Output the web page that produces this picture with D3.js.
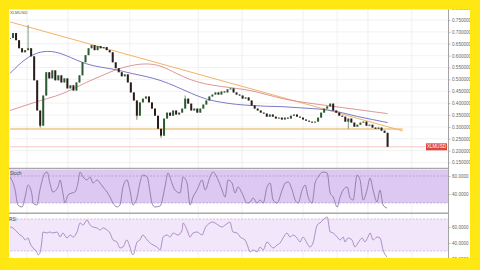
<!DOCTYPE html>
<html><head><meta charset="utf-8">
<script src="https://cdn.jsdelivr.net/npm/d3@7"></script>
<style>html,body{margin:0;padding:0;background:#fff;}svg{display:block;}</style>
</head><body><svg id="c" width="480" height="270"></svg>
<script>
// ---- data ----
const closes = [0.674,0.695,0.665,0.631,0.614,0.623,0.631,0.597,0.496,0.369,
0.305,0.432,0.530,0.504,0.538,0.496,0.517,0.487,0.504,0.462,
0.475,0.453,0.487,0.517,0.572,0.602,0.631,0.644,0.623,0.640,
0.631,0.636,0.623,0.614,0.572,0.547,0.530,0.513,0.521,0.487,
0.445,0.411,0.347,0.403,0.419,0.428,0.403,0.377,0.347,0.292,
0.263,0.335,0.360,0.347,0.369,0.352,0.360,0.377,0.419,0.398,
0.369,0.377,0.360,0.377,0.394,0.411,0.428,0.436,0.445,0.436,
0.449,0.445,0.458,0.462,0.445,0.436,0.432,0.419,0.424,0.411,
0.390,0.377,0.369,0.360,0.356,0.343,0.352,0.343,0.335,0.339,
0.331,0.339,0.335,0.347,0.352,0.343,0.339,0.331,0.326,0.322,
0.318,0.322,0.339,0.360,0.377,0.386,0.398,0.369,0.360,0.347,
0.343,0.322,0.335,0.318,0.301,0.309,0.318,0.322,0.305,0.309,
0.297,0.292,0.297,0.284,0.275,0.216];
const spikes = [[6,0.729,null],[10,null,0.297],[42,null,0.330],[50,null,0.254],[58,0.432,null],[112,null,0.292]];
const maIdx = [0,5,10,15,20,25,30,35,40,45,50,55,60,65,70,75,80,85,90,95,100,105,110,115,120,125];
const ma100 = [0.525,0.589,0.619,0.619,0.593,0.564,0.551,0.542,0.525,0.513,0.496,0.470,0.441,0.415,0.403,0.394,0.390,0.386,0.386,0.381,0.377,0.373,0.360,0.343,0.331,0.318];
const ma200 = [0.369,0.390,0.411,0.428,0.453,0.487,0.513,0.542,0.559,0.568,0.559,0.525,0.496,0.479,0.470,0.462,0.453,0.436,0.419,0.407,0.398,0.390,0.381,0.373,0.364,0.356];
const trendIdx = [0,130];
const trendVal = [0.742,0.283];
const supportIdx = [0,130];
const supportVal = 0.291;
const priceTicks = [0.15,0.20,0.25,0.30,0.35,0.40,0.45,0.50,0.55,0.60,0.65,0.70,0.75,0.80];
const gridIdx = [5.6,19.2,39.7,62.3,76.8,97,108.3,118.5,133];
const stochTicks = [60,40];
const rsiTicks = [60,40,20];
const stochPts = [[0,58.9],[1.7,44.4],[2.6,27.8],[4,25.6],[5,36.7],[6,50],[7.3,38.9],[7.6,30],[8.9,27.8],[9.9,44.4],
[11.6,63.3],[12.3,64.4],[13.2,52.2],[14.2,42.2],[15.9,47.8],[16.6,55.6],[17.5,41.1],[18.2,30],[19.2,38.9],[20.5,41.1],
[21.5,42.2],[22.5,52.2],[23.2,64.4],[24.2,58.9],[25.5,55.6],[26.5,58.9],[27.5,52.2],[28.8,55.6],[29.8,52.2],[30.8,47.8],
[32.1,42.2],[33.1,36.7],[34.1,30],[35.4,25.6],[36.4,27.8],[37.4,47.8],[38.7,55.6],[39.7,44.4],[40.7,27.8],[42.1,36.7],
[43,52.2],[44,61.1],[45.4,58.9],[46.4,41.1],[47,30],[48,25.6],[49.7,26.7],[51.3,47.8],[52.3,63.3],[53.6,52.2],
[54.6,44.4],[56.3,41.1],[57.3,58.9],[58.6,52.2],[59.6,27.8],[60.6,36.7],[61.9,44.4],[63.6,55.6],[64.6,44.4],[66.2,58.9],
[67.2,64.4],[68.9,55.6],[70.2,44.4],[71.2,36.7],[72.2,55.6],[73.5,52.2],[74.5,41.1],[75.5,47.8],[76.8,41.1],[78.5,30],
[79.5,31.1],[80.5,35.6],[81.8,30],[82.8,33.3],[83.8,30],[85.1,47.8],[86.1,52.2],[87.1,33.3],[88.4,30],[90.1,44.4],
[91.1,52.2],[92.1,53.3],[93.4,44.4],[94.4,33.3],[95.4,30],[96.7,44.4],[97.7,50],[98.7,36.7],[100,30],[101,52.2],
[102,58.9],[103.6,64.4],[105,63.3],[106,41.1],[107,36.7],[108.3,25.6],[109.3,36.7],[110.3,44.4],[111.6,47.8],[112.6,35.6],
[113.6,33.3],[114.9,61.1],[115.9,55.6],[116.9,33.3],[118.2,44.4],[119.2,57.8],[120.2,44.4],[121.5,31.1],[122.5,44.4],[123.5,27.8],
[124.8,24.4]];
const rsiPts = [[0,60],[1,58.8],[2.3,53.8],[3.3,50],[4.3,47.5],[5,43.8],[6,46.3],[6.6,40],[7.6,33.8],[8.9,28.8],
[9.3,25],[9.9,27.5],[10.6,43.8],[10.9,53.8],[12.3,52.5],[13.2,53.8],[14.2,52.5],[15.6,53.8],[16.6,47.5],[17.5,52.5],
[18.9,46.3],[19.9,50],[20.9,47.5],[22.2,53.8],[23.2,65],[24.2,62.5],[25.5,68.8],[26.5,62.5],[27.5,60],[28.8,58.8],
[29.8,56.3],[30.8,58.8],[32.1,56.3],[33.1,52.5],[34.1,43.8],[35.4,41.3],[36.4,33.8],[37.4,35],[38.7,43.8],[39.7,35],
[40.7,25],[42.1,41.3],[43,43.8],[44,50],[45.4,43.8],[46.4,40],[47.4,37.5],[48.7,35],[49.7,31.3],[50.7,47.5],
[52,50],[53,47.5],[54,52.5],[55.6,50],[57,56.3],[57.3,65],[58.6,56.3],[59.6,47.5],[60.6,52.5],[61.9,53.8],
[63.6,50],[64.6,58.8],[66.2,65],[66.9,66.3],[67.9,65],[68.9,62.5],[70.2,60],[71.2,62.5],[72.2,65],[72.8,66.3],
[73.8,53.8],[75.2,52.5],[76.2,47.5],[77.8,43.8],[78.8,35],[79.5,28.8],[80.5,31.3],[81.8,28.8],[82.8,35],[83.8,31.3],
[85.1,41.3],[86.1,37.5],[87.1,33.8],[88.4,37.5],[89.4,40],[90.4,46.3],[91.7,52.5],[92.7,47.5],[93.7,50],[95,46.3],
[96,41.3],[97,47.5],[98.3,40],[99.3,35],[100.3,40],[101.7,62.5],[102.6,65],[103.6,68.8],[105,72.5],[106,53.8],
[107,52.5],[108.3,47.5],[109.3,43.8],[110.3,47.5],[110.9,41.3],[111.9,46.3],[113.2,43.8],[114.2,35],[115.2,40],[116.6,46.3],
[117.5,41.3],[118.5,47.5],[119.2,52.5],[120.2,43.8],[121.5,47.5],[122.5,46.3],[123.5,31.3],[124.8,22.5]];
const symbol = "XLMUSD";

// ---- drawing ----
const svg = d3.select("#c");
const F = "'Liberation Sans', Arial, sans-serif";
const L = 10, R = 448;
const x = d3.scaleLinear().domain([0,145]).range([L,R]);
const yP = d3.scaleLinear().domain([0.15,0.75]).range([162.5,20]);
const yS = d3.scaleLinear().domain([30,60]).range([203,176]);
const yR = d3.scaleLinear().domain([40,60]).range([243,227]);

svg.append("rect").attr("width",480).attr("height",270).attr("fill","#fff");
const defs = svg.append("defs");
defs.append("clipPath").attr("id","cp").append("rect").attr("x",L).attr("y",0).attr("width",R-L).attr("height",168);
defs.append("clipPath").attr("id","cs").append("rect").attr("x",L).attr("y",169.5).attr("width",R-L).attr("height",43);
defs.append("clipPath").attr("id","cr").append("rect").attr("x",L).attr("y",214).attr("width",R-L).attr("height",50);

// grids
const g = svg.append("g");
g.selectAll(".vg").data(gridIdx).join("line")
 .attr("x1",d=>x(d)).attr("x2",d=>x(d)).attr("y1",0).attr("y2",262)
 .attr("stroke","#ececec").attr("stroke-width",0.8);
g.selectAll(".hg").data(priceTicks).join("line")
 .attr("x1",L).attr("x2",R).attr("y1",d=>yP(d)).attr("y2",d=>yP(d))
 .attr("stroke","#efefef").attr("stroke-width",0.8);

// price panel
const pp = svg.append("g").attr("clip-path","url(#cp)");
pp.append("line").attr("x1",L).attr("x2",R)
 .attr("y1",yP(closes[closes.length-1])).attr("y2",yP(closes[closes.length-1]))
 .attr("stroke","#f2b8b8").attr("stroke-width",0.8);
pp.append("line").attr("x1",x(supportIdx[0])).attr("x2",x(supportIdx[1]))
 .attr("y1",yP(supportVal)).attr("y2",yP(supportVal))
 .attr("stroke","#eaa94a").attr("stroke-width",1);
pp.append("line").attr("x1",x(trendIdx[0])).attr("x2",x(trendIdx[1]))
 .attr("y1",yP(trendVal[0])).attr("y2",yP(trendVal[1]))
 .attr("stroke","#f0b468").attr("stroke-width",1);
const lineMA = d3.line().x((d,i)=>x(maIdx[i])).y(d=>yP(d)).curve(d3.curveBasis);
pp.append("path").attr("d",lineMA(ma200)).attr("fill","none").attr("stroke","#d98a8a").attr("stroke-width",0.9);
pp.append("path").attr("d",lineMA(ma100)).attr("fill","none").attr("stroke","#6c6cc0").attr("stroke-width",0.9);

// candles
const spikeMap = new Map(spikes.map(s=>[s[0],s]));
const cg = pp.append("g");
closes.forEach((c,i)=>{
  const o = i===0 ? c : closes[i-1];
  const s = spikeMap.get(i);
  let hi = Math.max(o,c), lo = Math.min(o,c);
  if (s){ if(s[1]!=null) hi = Math.max(hi,s[1]); if(s[2]!=null) lo = Math.min(lo,s[2]); }
  const up = c >= o;
  const col = up ? "#2c5a31" : "#2a1c1c";
  cg.append("line").attr("x1",x(i)).attr("x2",x(i)).attr("y1",yP(hi)).attr("y2",yP(lo))
    .attr("stroke",col).attr("stroke-width",0.6);
  const y1 = yP(Math.max(o,c)), y2 = yP(Math.min(o,c));
  cg.append("rect").attr("x",x(i)-1).attr("width",2).attr("y",y1).attr("height",Math.max(0.8,y2-y1))
    .attr("fill",col);
});

// price label
const lastY = yP(closes[closes.length-1]);
svg.append("rect").attr("x",426).attr("y",lastY-3.5).attr("width",21).attr("height",7).attr("fill","#e0453a");
svg.append("text").attr("x",436.5).attr("y",lastY+0.3).attr("text-anchor","middle").attr("dominant-baseline","middle")
 .attr("font-family",F).attr("font-size",4.6).attr("fill","#fff").text(symbol);

// panel dividers
svg.append("line").attr("x1",0).attr("x2",R).attr("y1",168.5).attr("y2",168.5).attr("stroke","#a8a8a8").attr("stroke-width",1.4);
svg.append("line").attr("x1",0).attr("x2",R).attr("y1",213.3).attr("y2",213.3).attr("stroke","#a8a8a8").attr("stroke-width",1.4);

// stoch panel
const sp = svg.append("g").attr("clip-path","url(#cs)");
sp.append("rect").attr("x",L).attr("width",R-L).attr("y",170).attr("height",yS(30)-170).attr("fill","#dcc8f1");
[60,30].forEach(v=>sp.append("line").attr("x1",L).attr("x2",R).attr("y1",yS(v)).attr("y2",yS(v))
  .attr("stroke","#a98cc8").attr("stroke-width",0.6).attr("stroke-dasharray","2,1.5"));
sp.append("path").attr("d",d3.line().x(d=>x(d[0])).y(d=>yS(d[1])).curve(d3.curveMonotoneX)(stochPts))
  .attr("fill","none").attr("stroke","#8a7aa6").attr("stroke-width",0.9);
svg.append("text").attr("x",10).attr("y",174.5).attr("font-family",F).attr("font-size",4.5).attr("fill","#444").text("Stoch");

// rsi panel
const rp = svg.append("g").attr("clip-path","url(#cr)");
rp.append("rect").attr("x",L).attr("width",R-L).attr("y",yR(70)).attr("height",yR(30)-yR(70)).attr("fill","#f2e6fb");
[70,30].forEach(v=>rp.append("line").attr("x1",L).attr("x2",R).attr("y1",yR(v)).attr("y2",yR(v))
  .attr("stroke","#b9a0d2").attr("stroke-width",0.6).attr("stroke-dasharray","2,1.5"));
rp.append("path").attr("d",d3.line().x(d=>x(d[0])).y(d=>yR(d[1])).curve(d3.curveMonotoneX)(rsiPts))
  .attr("fill","none").attr("stroke","#9a78b8").attr("stroke-width",0.8);
svg.append("text").attr("x",9).attr("y",221).attr("font-family",F).attr("font-size",4.5).attr("fill","#444").text("RSI");

// price panel header
svg.append("text").attr("x",10).attr("y",13.5).attr("font-family",F).attr("font-size",4.2).attr("fill","#555").text("XLMUSD");

// right axis
svg.append("line").attr("x1",R+0.5).attr("x2",R+0.5).attr("y1",0).attr("y2",270).attr("stroke","#9a9a9a").attr("stroke-width",0.9);
const axP = d3.axisRight(yP).tickValues(priceTicks).tickFormat(d3.format(".6f")).tickSize(2).tickPadding(1.5);
const aP = svg.append("g").attr("transform",`translate(${R+0.5},0)`).call(axP);
const axS = d3.axisRight(yS).tickValues(stochTicks).tickFormat(d3.format(".4f")).tickSize(2).tickPadding(1.5);
const aS = svg.append("g").attr("transform",`translate(${R+0.5},0)`).call(axS);
const axR = d3.axisRight(yR).tickValues(rsiTicks).tickFormat(d3.format(".4f")).tickSize(2).tickPadding(1.5);
const aR = svg.append("g").attr("transform",`translate(${R+0.5},0)`).call(axR);
[aP,aS,aR].forEach(a=>{
  a.select(".domain").remove();
  a.selectAll("line").attr("stroke","#9a9a9a").attr("stroke-width",0.6);
  a.selectAll("text").attr("font-family",F).attr("font-size",4.6).attr("fill","#666");
});

// yellow frame
svg.append("path").attr("d","M0 0H480V270H0Z M9 9.5V258H470V9.5Z").attr("fill-rule","evenodd").attr("fill","#ffe714");
</script></body></html>
